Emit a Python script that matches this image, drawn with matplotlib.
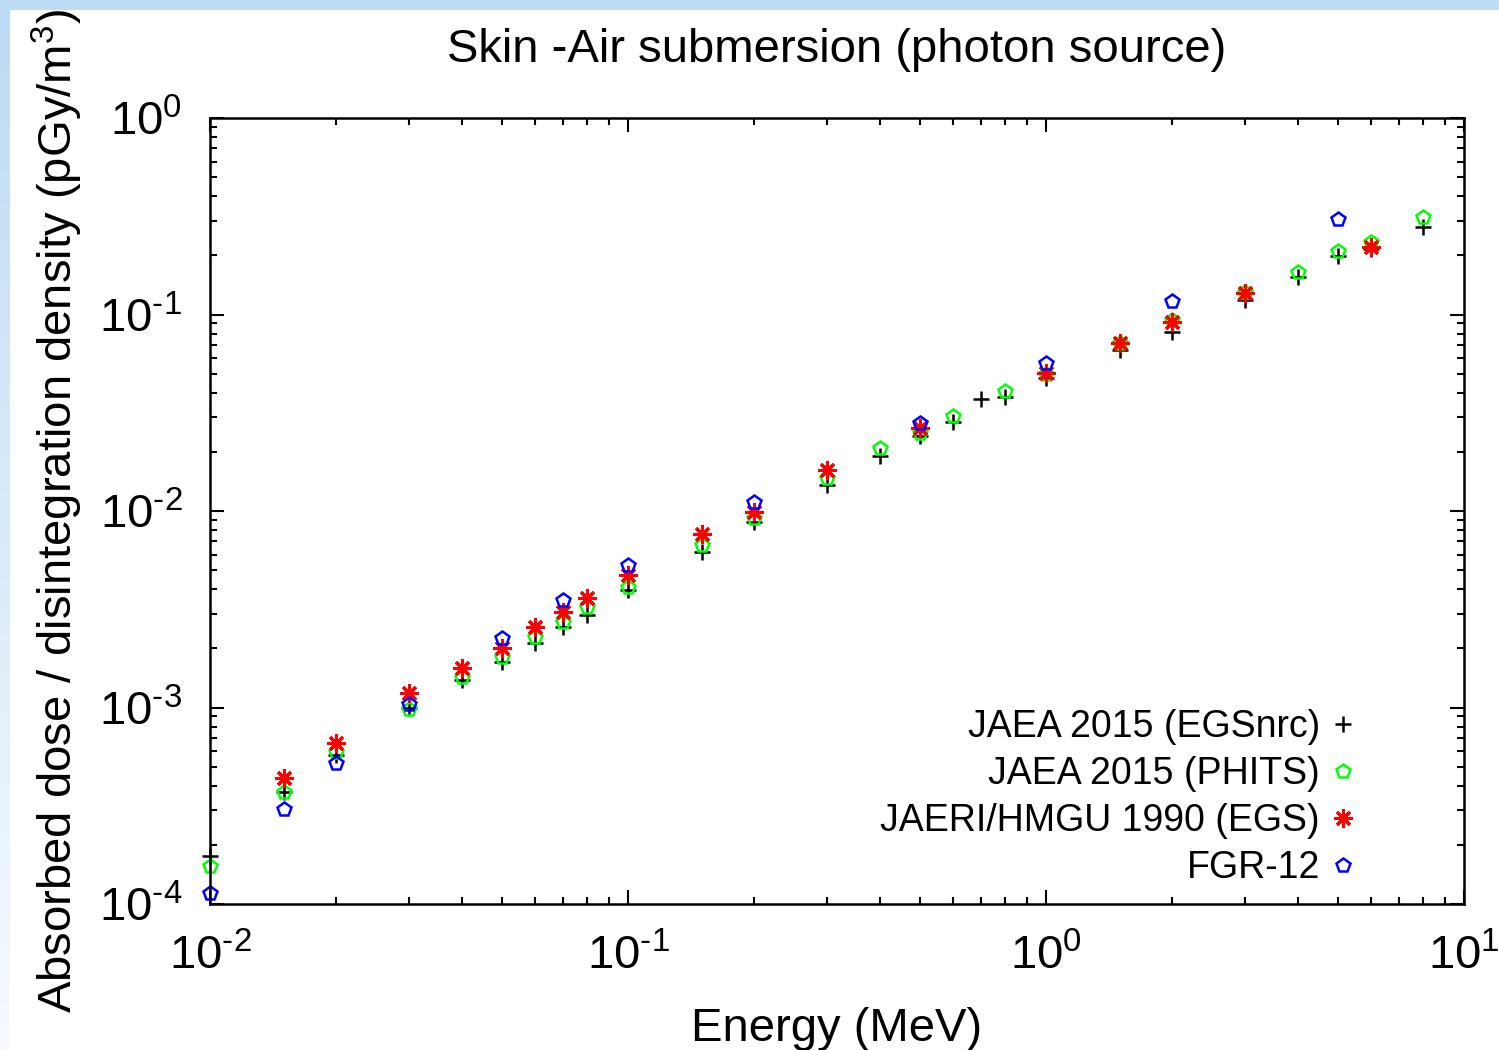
import numpy as np
import matplotlib
matplotlib.use("Agg")
import matplotlib.pyplot as plt
from matplotlib.patches import Rectangle
from matplotlib.ticker import LogLocator, NullFormatter, FuncFormatter

plt.rcParams["font.family"] = ["Liberation Sans", "DejaVu Sans"]
plt.rcParams["mathtext.fontset"] = "custom"
plt.rcParams["mathtext.rm"] = "Liberation Sans"
plt.rcParams["mathtext.it"] = "Liberation Sans:italic"
plt.rcParams["mathtext.bf"] = "Liberation Sans:bold"
plt.rcParams["mathtext.default"] = "regular"

# photon energy (MeV) and skin absorbed dose per disintegration density (pGy/m^3)
E_EGSNRC = [0.01, 0.015, 0.02, 0.03, 0.04, 0.05, 0.06, 0.07, 0.08, 0.1,
            0.15, 0.2, 0.3, 0.4, 0.5, 0.6, 0.7, 0.8, 1.0, 1.5, 2.0, 3.0,
            4.0, 5.0, 6.0, 8.0]
D_EGSNRC = [1.75e-4, 3.7e-4, 5.7e-4, 1.0e-3, 1.38e-3, 1.71e-3, 2.13e-3,
            2.57e-3, 2.96e-3, 3.96e-3, 6.18e-3, 8.8e-3, 1.36e-2, 1.9e-2,
            2.41e-2, 2.84e-2, 3.72e-2, 3.8e-2, 4.75e-2, 6.6e-2, 8.1e-2,
            0.119, 0.155, 0.199, 0.215, 0.279]

E_PHITS = [0.01, 0.015, 0.02, 0.03, 0.04, 0.05, 0.06, 0.07, 0.08, 0.1,
           0.15, 0.2, 0.3, 0.4, 0.5, 0.6, 0.8, 1.0, 1.5, 2.0, 3.0, 4.0,
           5.0, 6.0, 8.0]
D_PHITS = [1.56e-4, 3.7e-4, 5.94e-4, 9.8e-4, 1.43e-3, 1.81e-3, 2.29e-3,
           2.72e-3, 3.24e-3, 4.1e-3, 6.71e-3, 9.2e-3, 1.47e-2, 2.09e-2,
           2.5e-2, 3.04e-2, 4.08e-2, 5.0e-2, 7.2e-2, 9.4e-2, 0.13, 0.164,
           0.21, 0.234, 0.313]

E_EGS1990 = [0.015, 0.02, 0.03, 0.04, 0.05, 0.06, 0.07, 0.08, 0.1, 0.15,
             0.2, 0.3, 0.5, 1.0, 1.5, 2.0, 3.0, 6.0]
D_EGS1990 = [4.38e-4, 6.6e-4, 1.19e-3, 1.59e-3, 2.01e-3, 2.57e-3, 3.06e-3,
             3.61e-3, 4.72e-3, 7.64e-3, 9.9e-3, 1.62e-2, 2.64e-2, 5.03e-2,
             7.16e-2, 9.2e-2, 0.129, 0.221]

E_FGR12 = [0.01, 0.015, 0.02, 0.03, 0.05, 0.07, 0.1, 0.2, 0.5, 1.0, 2.0, 5.0]
D_FGR12 = [1.14e-4, 3.04e-4, 5.2e-4, 1.04e-3, 2.26e-3, 3.52e-3, 5.31e-3,
           1.11e-2, 2.8e-2, 5.66e-2, 0.117, 0.306]

LABELS = [
    "JAEA 2015 (EGSnrc)",
    "JAEA 2015 (PHITS)",
    "JAERI/HMGU 1990 (EGS)",
    "FGR-12",
]


def pow10_label(val, pos):
    # short hyphen instead of the math minus sign
    exp = int(round(np.log10(val)))
    sign = "\u2010" if exp < 0 else ""
    return f"$10^{{{sign}{abs(exp)}}}$"


fig = plt.figure(figsize=(14.99, 10.5), dpi=100)
W, H = 1499, 1050

# slide background strips
fig.patches.append(Rectangle((0, 1 - 10 / H), 1, 10 / H, transform=fig.transFigure,
                             facecolor="#bddcf6", edgecolor="none", zorder=0))
strip = fig.add_axes([0, 0, 10 / W, 1 - 10 / H])
grad = np.linspace(0, 1, 256)[:, None, None]
top_c = np.array([0.74, 0.86, 0.965])
bot_c = np.array([0.97, 0.98, 0.995])
strip.imshow(top_c * (1 - grad) + bot_c * grad, aspect="auto")
strip.set_axis_off()

ax = fig.add_axes([210 / W, 1 - 904 / H, 1254 / W, 786 / H])

ax.plot(E_EGSNRC, D_EGSNRC, ls="none", marker="+", ms=12, mew=1.8,
        color="black", clip_on=False, label=LABELS[0])
ax.plot(E_PHITS, D_PHITS, ls="none", marker="p", ms=10, mew=1.8,
        mfc="none", mec="#00ff00", clip_on=False, label=LABELS[1])
ax.plot(E_EGS1990, D_EGS1990, ls="none", marker=(8, 2, 0), ms=13, mew=2.2,
        color="#ff0000", clip_on=False, label=LABELS[2])
ax.plot(E_FGR12, D_FGR12, ls="none", marker="p", ms=10, mew=1.8,
        mfc="none", mec="#0000ff", clip_on=False, label=LABELS[3])

ax.set_xscale("log")
ax.set_yscale("log")
ax.set_xlim(1e-2, 10)
ax.set_ylim(1e-4, 1)

for axis in (ax.xaxis, ax.yaxis):
    axis.set_major_locator(LogLocator(base=10, numticks=10))
    axis.set_major_formatter(FuncFormatter(pow10_label))
    axis.set_minor_locator(LogLocator(base=10, subs=np.arange(2, 10), numticks=10))
    axis.set_minor_formatter(NullFormatter())

ax.tick_params(which="both", direction="in", top=True, right=True, width=1.5)
ax.tick_params(which="major", length=10, labelsize=34)
ax.tick_params(which="minor", length=5)
ax.tick_params(axis="x", which="major", pad=22)
ax.tick_params(axis="y", which="major", pad=20)
for spine in ax.spines.values():
    spine.set_linewidth(1.8)

ax.set_title("Skin -Air submersion (photon source)", fontsize=34, pad=40)
ax.set_xlabel("Energy (MeV)", fontsize=34, labelpad=20)
ax.set_ylabel("Absorbed dose / disintegration density (pGy/m$^3$)",
              fontsize=34, labelpad=10)

ax.legend(loc="lower right", bbox_to_anchor=(1358 / W, 1 - 886 / H),
          bbox_transform=fig.transFigure, frameon=False, markerfirst=False,
          fontsize=27, handlelength=0.8, handletextpad=0.21,
          labelspacing=0.29, borderpad=0, borderaxespad=0, numpoints=1)

fig.savefig("out.png", dpi=100, facecolor="white")
